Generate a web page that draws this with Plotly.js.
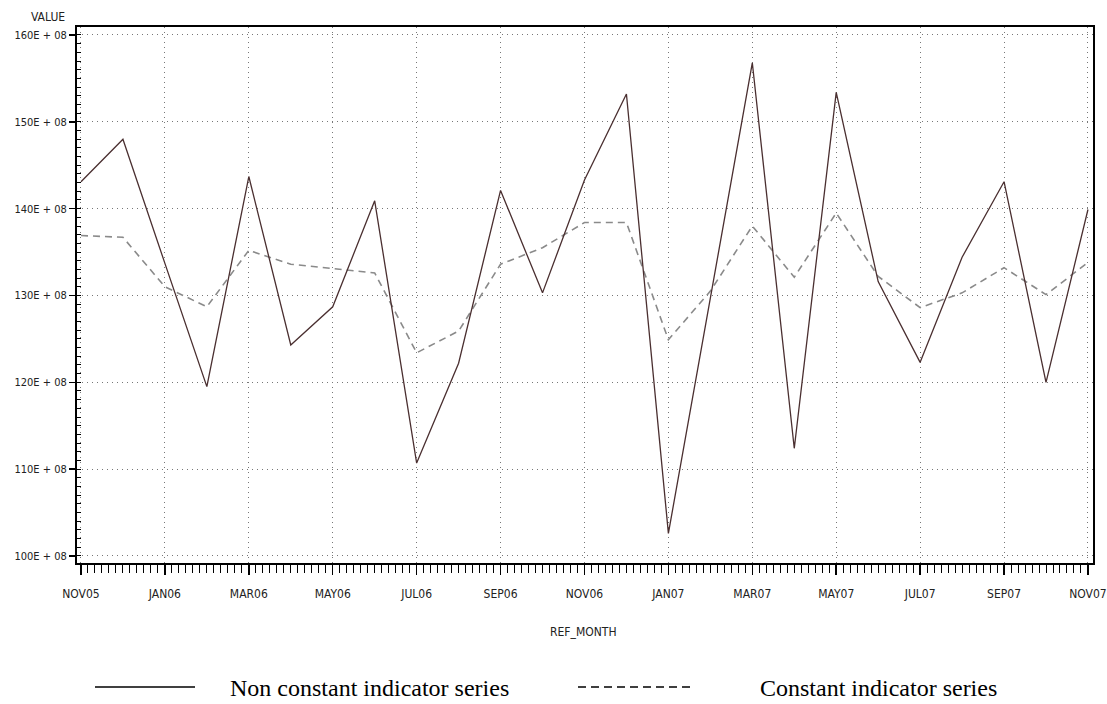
<!DOCTYPE html>
<html>
<head>
<meta charset="utf-8">
<script src="https://cdn.plot.ly/plotly-3.0.1.min.js"></script>
<style>html,body{margin:0;padding:0;background:#fff;}#chart{width:1107px;height:704px;}</style>
</head>
<body>
<div id="chart"></div>
<script>
// ---- data ----
const months = ["NOV05","DEC05","JAN06","FEB06","MAR06","APR06","MAY06","JUN06","JUL06","AUG06","SEP06","OCT06",
                "NOV06","DEC06","JAN07","FEB07","MAR07","APR07","MAY07","JUN07","JUL07","AUG07","SEP07","OCT07","NOV07"];
const nonConstant = [143.1,148.0,133.7,119.5,143.7,124.3,128.7,140.9,110.7,122.2,142.1,130.3,
                     143.3,153.2,102.6,129.8,156.8,112.4,153.4,131.6,122.3,134.4,143.1,120.0,139.9];
const constant = [136.9,136.7,131.0,128.7,135.2,133.6,133.1,132.6,123.4,125.9,133.6,135.5,
                  138.4,138.4,124.9,130.5,138.0,132.1,139.5,132.2,128.6,130.3,133.2,130.1,133.8];
const yTickVals = [100,110,120,130,140,150,160];
const yTickText = ["100E + 08","110E + 08","120E + 08","130E + 08","140E + 08","150E + 08","160E + 08"];
const seriesNames = ["Non constant indicator series","Constant indicator series"];
const yLabel = "VALUE";
const xLabel = "REF_MONTH";

const xIdx = months.map((m,i)=>i);
const xTickVals = xIdx.filter(i=>i%2===0);
const xTickText = xTickVals.map(i=>months[i]);

const W=1107,H=704,L=77,R=14,T=27,B=141;
const pw=W-L-R, ph=H-T-B;
const px=(x)=>(x-L)/pw;
const py=(y)=>1-(y-T)/ph;

const cond = "DejaVu Sans Condensed, Liberation Sans Narrow, Arial Narrow, sans-serif";
const serif = "Liberation Serif, Times New Roman, serif";

const traces = [
  {x:xIdx, y:constant, type:"scatter", mode:"lines", name:seriesNames[1],
   line:{color:"#8a8a8a", width:1.6, dash:"7px,5px"}},
  {x:xIdx, y:nonConstant, type:"scatter", mode:"lines", name:seriesNames[0],
   line:{color:"#4a2f30", width:1.3}}
];

const layout = {
  width:W, height:H,
  margin:{l:L,r:R,t:T,b:B,pad:0},
  paper_bgcolor:"#fff", plot_bgcolor:"#fff",
  showlegend:false,
  font:{family:cond, size:12, color:"#222"},
  xaxis:{
    range:[-0.095,24.12], tickmode:"array", tickvals:xTickVals, ticktext:xTickText,
    showline:true, linecolor:"#000", linewidth:2, mirror:true,
    ticks:"outside", ticklen:10, tickwidth:1.5, tickcolor:"#000",
    ticklabelstandoff:9, ticklabeloverflow:"allow",
    showgrid:true, gridcolor:"#777", gridwidth:1, griddash:"1px,4px",
    zeroline:false,
    minor:{dtick:1/6, tick0:0, ticks:"outside", ticklen:8, tickwidth:1, tickcolor:"#000", showgrid:false},
    tickfont:{family:cond, size:12, color:"#222"}
  },
  yaxis:{
    range:[99.19,160.92], tickmode:"array", tickvals:yTickVals, ticktext:yTickText,
    showline:true, linecolor:"#000", linewidth:2, mirror:true,
    ticks:"outside", ticklen:6, tickwidth:1.5, tickcolor:"#000",
    showgrid:true, gridcolor:"#777", gridwidth:1, griddash:"1px,4px",
    zeroline:false,
    minor:{dtick:1, tick0:100, ticks:"inside", ticklen:4, tickwidth:1, tickcolor:"#000", showgrid:false},
    tickfont:{family:cond, size:11, color:"#222"}
  },
  annotations:[
    {text:yLabel, xref:"paper", yref:"paper", x:px(48), y:py(17), xanchor:"center", yanchor:"middle",
     showarrow:false, font:{family:cond, size:12, color:"#222"}},
    {text:xLabel, xref:"paper", yref:"paper", x:px(583), y:py(632), xanchor:"center", yanchor:"middle",
     showarrow:false, font:{family:cond, size:12, color:"#222"}},
    {text:seriesNames[0], xref:"paper", yref:"paper", x:px(228), y:py(688), xanchor:"left", yanchor:"middle",
     showarrow:false, font:{family:serif, size:24, color:"#000"}},
    {text:seriesNames[1], xref:"paper", yref:"paper", x:px(758), y:py(688), xanchor:"left", yanchor:"middle",
     showarrow:false, font:{family:serif, size:24, color:"#000"}}
  ],
  shapes:[
    {type:"line", xref:"paper", yref:"paper", x0:px(95), x1:px(195), y0:py(687), y1:py(687),
     line:{color:"#000", width:1.6}},
    {type:"line", xref:"paper", yref:"paper", x0:px(578), x1:px(690), y0:py(687), y1:py(687),
     line:{color:"#000", width:1.4, dash:"8px,5px"}}
  ]
};

Plotly.newPlot("chart", traces, layout, {staticPlot:true, displayModeBar:false});
</script>
</body>
</html>
